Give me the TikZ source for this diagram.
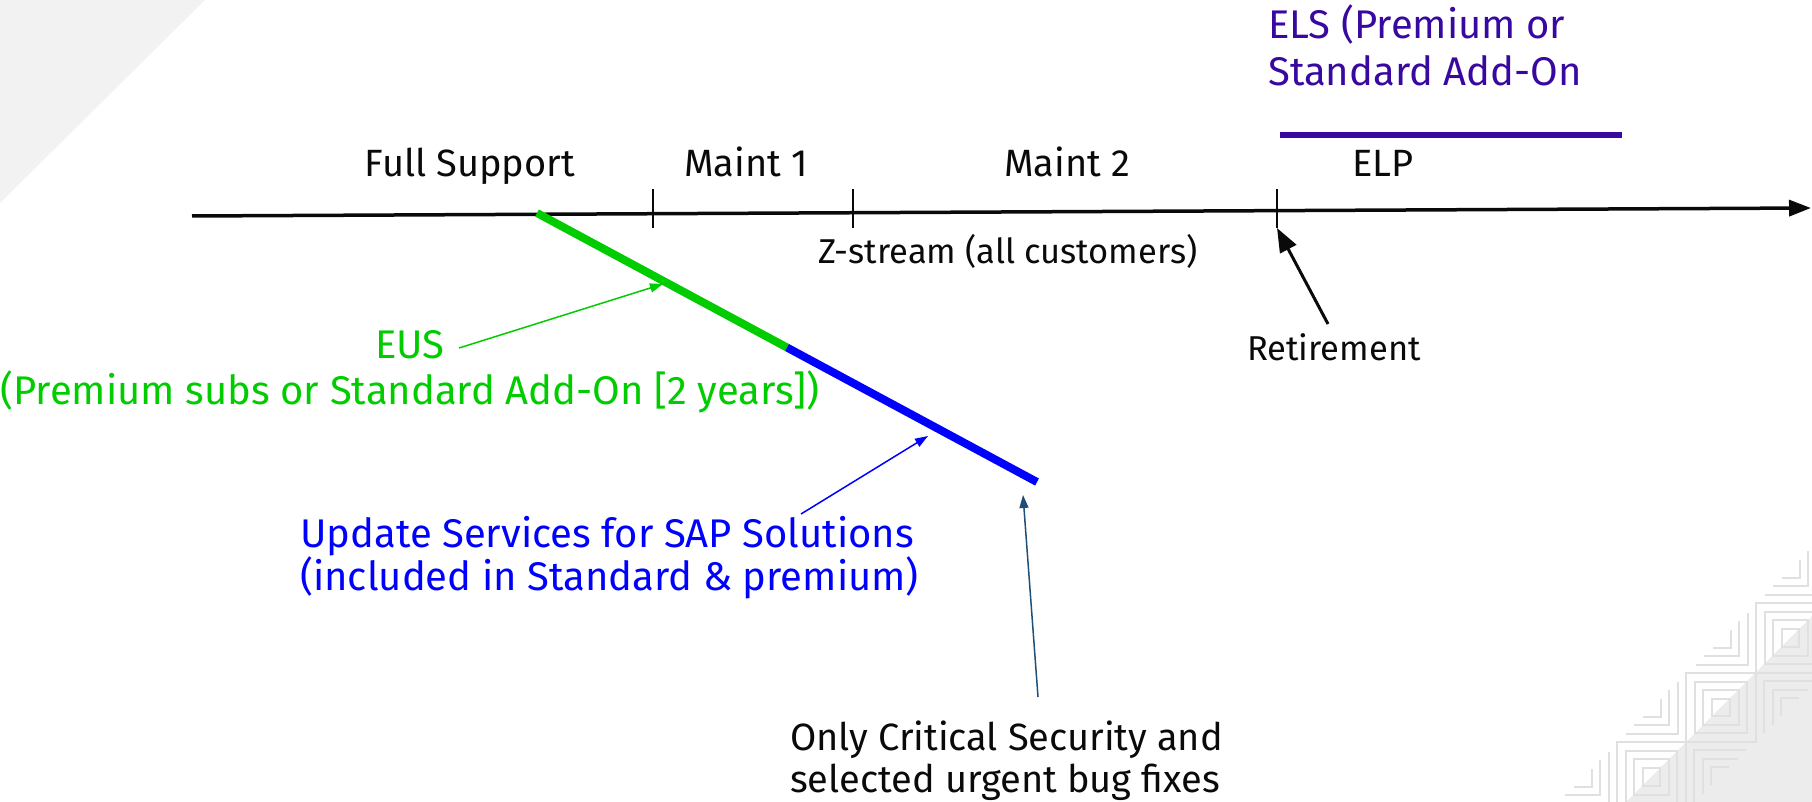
\documentclass[tikz,border=0pt]{standalone}
\usepackage{fontspec}
\setmainfont{Fira Sans}
\usetikzlibrary{arrows.meta}
\definecolor{eusgreen}{RGB}{0,204,0}
\definecolor{sapblue}{RGB}{0,0,255}
\definecolor{elspurple}{RGB}{56,8,160}
\definecolor{navyarrow}{RGB}{31,78,121}
\definecolor{bgtri}{RGB}{242,242,242}
\definecolor{patfill}{RGB}{236,236,236}
\definecolor{patline}{RGB}{224,224,224}
\definecolor{txt}{RGB}{10,10,10}
\begin{document}
\begin{tikzpicture}[x=1pt,y=-1pt,
  lbl/.style={font=\fontsize{38}{46}\selectfont, inner sep=0pt, anchor=base, text=txt},
  biglbl/.style={font=\fontsize{40}{46}\selectfont, inner sep=0pt, text=txt},
  smalllbl/.style={font=\fontsize{34.5}{40}\selectfont, inner sep=0pt, anchor=base, text=txt},
  tickline/.style={line width=1.5pt, txt},
  patl/.style={line width=2pt, patline},
  thinarrow/.style={line width=1.5pt, -{Triangle[length=13pt,width=9pt]}},
]
\useasboundingbox (0,0) rectangle (1812,802);
% background decoration
\begin{scope}
\clip (0,0) rectangle (1812,802);
\fill[bgtri] (0,0) -- (205,0) -- (0,203) -- cycle;
\fill[patfill] (1812,616) -- (1812,802) -- (1626,802) -- cycle;
\foreach \k in {-1,0,1,2,3} {
  \pgfmathsetmacro{\xo}{1755.5-69.5*\k}
  \pgfmathsetmacro{\yo}{603+69.5*\k}
  \foreach \d in {0,9,17,26}
    \draw[patl] (\xo+\d,\yo+\d) rectangle (\xo+69.5-\d,\yo+69.5-\d);
  \foreach \d/\L in {8/52,17/35,25/18} {
    \draw[patl] (\xo-\d-\L,\yo+69.5-\d) -- (\xo-\d,\yo+69.5-\d) -- (\xo-\d,\yo+69.5-\d-\L);
    \draw[patl] (\xo+69.5+\d+\L,\yo+\d) -- (\xo+69.5+\d,\yo+\d) -- (\xo+69.5+\d,\yo+\d+\L);
  }
}
\end{scope}

% axis
\coordinate (axL) at (192,216);
\coordinate (axR) at (1811,208);
\draw[line width=3.5pt, txt, -{Triangle[length=22pt,width=16pt]}] (axL) -- (axR);
\coordinate (t1a) at (653,189); \coordinate (t1b) at (653,228);
\coordinate (t2a) at (853,189); \coordinate (t2b) at (853,228);
\coordinate (t3a) at (1277,189); \coordinate (t3b) at (1277,228);
\draw[tickline] (t1a) -- (t1b);
\draw[tickline] (t2a) -- (t2b);
\draw[tickline] (t3a) -- (t3b);

% period labels
\node[lbl] (fs) at (470,177) {Full Support};
\node[lbl] (m1) at (746,177) {Maint 1};
\node[lbl] (m2) at (1067,177) {Maint 2};
\node[lbl] (elp) at (1383,177) {ELP};
\node[smalllbl] (zs) at (1008,264) {Z-stream (all customers)};
\node[smalllbl] (ret) at (1334,360) {Retirement};

% ELS
\coordinate (els0) at (1280,135);
\coordinate (els1) at (1622,135);
\draw[line width=6pt, elspurple] (els0) -- (els1);
\node[biglbl, text=elspurple, align=left, anchor=base west, font=\fontsize{40}{47}\selectfont] (els) at (1268,86) {ELS (Premium or\\Standard Add-On};

% EUS / SAP line
\coordinate (g0) at (537,213);
\coordinate (gb) at (787,347.5);
\coordinate (b1) at (1037,482);
\draw[line width=8pt, eusgreen] (g0) -- (gb);
\draw[line width=8pt, sapblue] (gb) -- (b1);

\node[biglbl, text=eusgreen, align=center, anchor=base] (eus) at (410,404) {EUS\\(Premium subs or Standard Add-On [2 years])};
\node[biglbl, text=sapblue, align=left, anchor=base west, font=\fontsize{40}{43}\selectfont] (sap) at (300,590) {Update Services for SAP Solutions\\(included in Standard \& premium)};
\node[lbl, align=left, anchor=base west, font=\fontsize{38}{42}\selectfont] (crit) at (790,792) {Only Critical Security and\\selected urgent bug fixes};

% pointer arrows
\coordinate (eusA) at (459,348);
\coordinate (eusT) at (663,284);
\draw[thinarrow, eusgreen] (eusA) -- (eusT);
\coordinate (sapA) at (801,514);
\coordinate (sapT) at (928,436);
\draw[thinarrow, sapblue] (sapA) -- (sapT);
\coordinate (critA) at (1038,697);
\coordinate (critT) at (1023,495);
\draw[thinarrow, navyarrow] (critA) -- (critT);
\coordinate (retA) at (1328,324);
\draw[line width=3pt, txt, -{Triangle[length=24pt,width=18pt]}] (retA) -- (t3b);
\end{tikzpicture}
\end{document}
